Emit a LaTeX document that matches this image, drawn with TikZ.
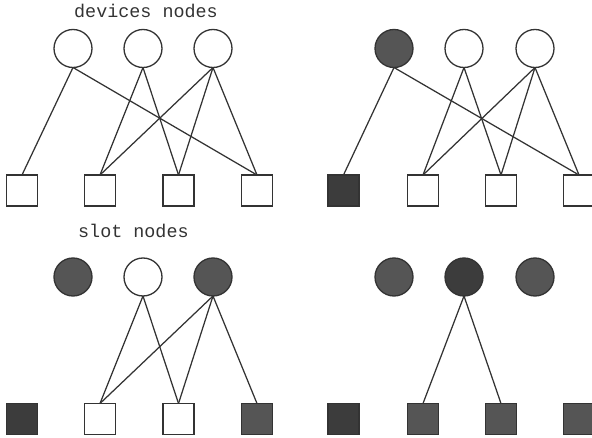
\documentclass[tikz,border=0pt]{standalone}
\usepackage{fontspec}
\setmonofont{Liberation Mono}
\definecolor{ink}{HTML}{333333}
\definecolor{mid}{HTML}{555555}
\definecolor{deep}{HTML}{3C3C3C}
\begin{document}
\begin{tikzpicture}[x=1pt,y=-1pt,
  dev/.style={circle,draw=ink,line width=1.3pt,fill=white,minimum size=38pt,inner sep=0pt,outer sep=0pt},
  slot/.style={rectangle,draw=ink,line width=1.3pt,fill=white,minimum size=31pt,inner sep=0pt,outer sep=0pt},
  link/.style={draw=ink,line width=1.25pt},
  busy/.style={fill=mid},
  held/.style={fill=deep},
  caption/.style={font=\ttfamily\fontsize{18.4}{18}\selectfont,text=ink,anchor=base west,inner sep=0pt}]
\useasboundingbox (0,0) rectangle (592,438);

% captions
\node[caption] (t1) at (74,18) {devices nodes};
\node[caption] (t2) at (78,238) {slot nodes};

% top-left panel
\node[dev] (a1) at (73,48.5) {};
\node[dev] (a2) at (143,48.5) {};
\node[dev] (a3) at (213,48.5) {};
\node[slot] (p1) at (22,190.5) {};
\node[slot] (p2) at (100,190.5) {};
\node[slot] (p3) at (178.5,190.5) {};
\node[slot] (p4) at (257,190.5) {};
\draw[link] (a1.south) -- (p1.north);
\draw[link] (a1.south) -- (p4.north);
\draw[link] (a2.south) -- (p2.north);
\draw[link] (a2.south) -- (p3.north);
\draw[link] (a3.south) -- (p2.north);
\draw[link] (a3.south) -- (p3.north);
\draw[link] (a3.south) -- (p4.north);

% top-right panel
\node[dev,busy] (b1) at (394,48.5) {};
\node[dev] (b2) at (464,48.5) {};
\node[dev] (b3) at (535,48.5) {};
\node[slot,held] (q1) at (343.5,190.5) {};
\node[slot] (q2) at (423,190.5) {};
\node[slot] (q3) at (501,190.5) {};
\node[slot] (q4) at (579,190.5) {};
\draw[link] (b1.south) -- (q1.north);
\draw[link] (b1.south) -- (q4.north);
\draw[link] (b2.south) -- (q2.north);
\draw[link] (b2.south) -- (q3.north);
\draw[link] (b3.south) -- (q2.north);
\draw[link] (b3.south) -- (q3.north);
\draw[link] (b3.south) -- (q4.north);

% bottom-left panel
\node[dev,busy] (c1) at (73,277) {};
\node[dev] (c2) at (143,277) {};
\node[dev,busy] (c3) at (213,277) {};
\node[slot,held] (r1) at (22,419) {};
\node[slot] (r2) at (100,419) {};
\node[slot] (r3) at (178.5,419) {};
\node[slot,busy] (r4) at (257,419) {};
\draw[link] (c2.south) -- (r2.north);
\draw[link] (c2.south) -- (r3.north);
\draw[link] (c3.south) -- (r2.north);
\draw[link] (c3.south) -- (r3.north);
\draw[link] (c3.south) -- (r4.north);

% bottom-right panel
\node[dev,busy] (d1) at (394,277) {};
\node[dev,held] (d2) at (464,277) {};
\node[dev,busy] (d3) at (535,277) {};
\node[slot,held] (s1) at (343.5,419) {};
\node[slot,busy] (s2) at (423,419) {};
\node[slot,busy] (s3) at (501,419) {};
\node[slot,busy] (s4) at (579,419) {};
\draw[link] (d2.south) -- (s2.north);
\draw[link] (d2.south) -- (s3.north);
\end{tikzpicture}
\end{document}
